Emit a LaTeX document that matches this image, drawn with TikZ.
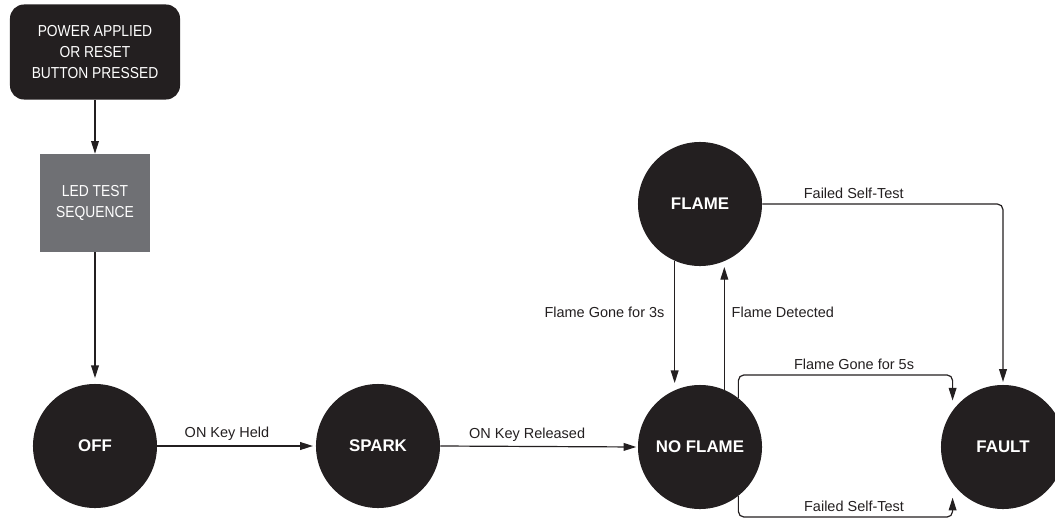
\documentclass[tikz,border=0pt]{standalone}
\usepackage{fontspec}
\setmainfont{Liberation Sans}
\newfontfamily\condfont[FakeStretch=0.87]{Liberation Sans}
\usetikzlibrary{arrows.meta}
\definecolor{ink}{HTML}{231F20}
\definecolor{ledgray}{HTML}{6F7074}

\begin{document}
\begin{tikzpicture}[x=0.025cm, y=-0.025cm,
    state/.style={circle, fill=ink, text=white, minimum size=3.1cm, inner sep=0pt,
      font=\fontsize{12}{14}\selectfont\bfseries},
    startbox/.style={rounded corners=0.35cm, fill=ink, text=white, align=center,
      minimum width=4.25cm, minimum height=2.375cm,
      font=\condfont\fontsize{11.3}{14.8}\selectfont},
    ledbox/.style={fill=ledgray, text=white, align=center,
      minimum width=2.75cm, minimum height=2.45cm,
      font=\condfont\fontsize{11.3}{14.8}\selectfont},
    arr/.style={-{Triangle[length=9pt,width=5.5pt]}, line width=0.85pt, draw=ink},
    lbl/.style={text=ink, font=\fontsize{10.3}{12}\selectfont}]
    \useasboundingbox (0,0) rectangle (1055,520);
    \clip (0,0) rectangle (1055,520);
    % start boxes
    \node[startbox] (power) at (95,52) {POWER APPLIED\\OR RESET\\BUTTON PRESSED};
    \node[ledbox] (led) at (95,203) {LED TEST\\SEQUENCE};
    % states
    \node[state] (off)   at (95,446)   {OFF};
    \node[state] (spark) at (378,446)  {SPARK};
    \node[state] (nofl)  at (700,447)  {NO FLAME};
    \node[state] (flame) at (700,204)  {FLAME};
    \node[state] (fault) at (1003,447) {FAULT};
    % start sequence
    \draw[arr] (power.south) -- (led.north);
    \draw[arr, shorten >=4pt] (led.south) -- (off.north);
    % transitions along the bottom
    \draw[arr, shorten >=2pt] (off.east) -- node[lbl, above, pos=0.44] {ON Key Held} (spark.west);
    \draw[arr, shorten >=1pt] (spark.east) -- node[lbl, above, pos=0.44] {ON Key Released} (nofl.west);
    % flame / no flame
    \draw[arr, shorten >=5pt] (flame.246) -- node[lbl, left, pos=0.4, xshift=-3.5pt] {Flame Gone for 3s} (nofl.114);
    \draw[arr, shorten >=4pt] (nofl.67) -- node[lbl, right, pos=0.6, xshift=1.5pt] {Flame Detected} (flame.-67);
    % fault transitions
    \draw[arr, rounded corners=4pt, shorten >=2pt] (flame.east) -| node[lbl, above, pos=0.19] {Failed Self-Test} (fault.north);
    \draw[arr, rounded corners=4pt, shorten >=7pt] (nofl.52) -- ++(0,-23) -| node[lbl, above, pos=0.27] {Flame Gone for 5s} (fault.144);
    \draw[arr, rounded corners=4pt, shorten >=10pt] (nofl.-52) -- ++(0,21) -| node[lbl, above, pos=0.27] {Failed Self-Test} (fault.-144);
\end{tikzpicture}
\end{document}
